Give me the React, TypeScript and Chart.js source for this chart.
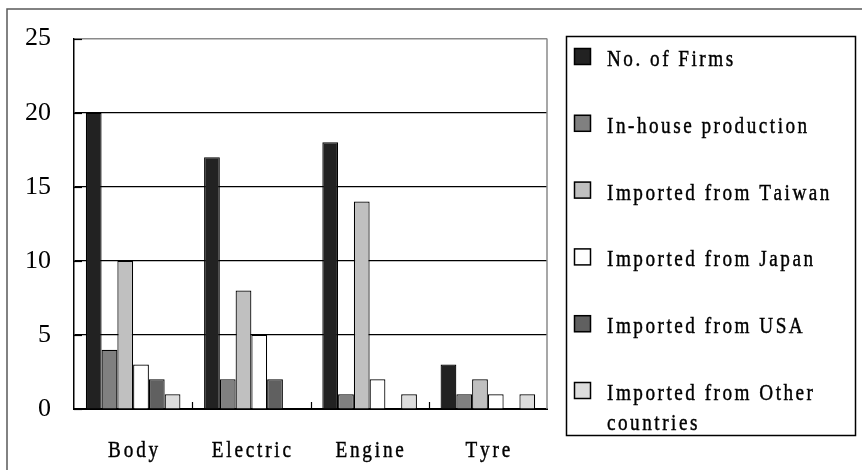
import React, { useEffect, useRef } from "react";
import { Chart, registerables } from "chart.js";

Chart.register(...registerables);

const categories = ["Body", "Electric", "Engine", "Tyre"];
const seriesNames = [
  "No. of Firms",
  "In-house production",
  "Imported from Taiwan",
  "Imported from Japan",
  "Imported from USA",
  "Imported from Other countries",
];
const firms = [20, 17, 18, 3];
const inHouse = [4, 2, 1, 1];
const taiwan = [10, 8, 14, 2];
const japan = [3, 5, 2, 1];
const usa = [2, 2, 0, 0];
const others = [1, 0, 1, 1];
const yTicks = [0, 5, 10, 15, 20, 25];
const seriesColors = ["#222222", "#808080", "#c0c0c0", "#ffffff", "#606060", "#dddddd"];

const FONT = '"Liberation Serif", "Times New Roman", serif';

function spacedWidth(ctx: CanvasRenderingContext2D, text: string, size: number, sx: number, sp: number) {
  ctx.save();
  ctx.font = `${size}px ${FONT}`;
  let w = 0;
  for (const ch of text) w += ctx.measureText(ch).width * sx;
  ctx.restore();
  return w + sp * Math.max(0, text.length - 1);
}

function drawSpaced(
  ctx: CanvasRenderingContext2D,
  text: string,
  x: number,
  y: number,
  size: number,
  sx: number,
  sp: number
) {
  ctx.save();
  ctx.font = `${size}px ${FONT}`;
  ctx.fillStyle = "#000";
  ctx.strokeStyle = "#000";
  ctx.lineWidth = 0.45;
  ctx.textAlign = "left";
  ctx.textBaseline = "alphabetic";
  ctx.translate(x, y);
  ctx.scale(sx, 1);
  let cx = 0;
  for (const ch of text) {
    ctx.fillText(ch, cx, 0);
    ctx.strokeText(ch, cx, 0);
    cx += ctx.measureText(ch).width + sp / sx;
  }
  ctx.restore();
}

const decor = {
  id: "decor",
  beforeDraw(chart: any) {
    const ctx = chart.ctx as CanvasRenderingContext2D;
    ctx.save();
    ctx.fillStyle = "#ffffff";
    ctx.fillRect(0, 0, chart.width, chart.height);
    ctx.strokeStyle = "#5a5a5a";
    ctx.lineWidth = 1.5;
    ctx.strokeRect(7, 9, chart.width + 20, chart.height + 20);
    ctx.restore();
  },
  afterDraw(chart: any) {
    const ctx = chart.ctx as CanvasRenderingContext2D;
    const area = chart.chartArea;
    const xs = chart.scales.x;
    const ys = chart.scales.y;
    ctx.save();
    // right border of plot (gray)
    ctx.strokeStyle = "#8a8a8a";
    ctx.lineWidth = 1.5;
    ctx.beginPath();
    ctx.moveTo(area.right, area.top);
    ctx.lineTo(area.right, area.bottom);
    ctx.stroke();
    // inside y ticks
    ctx.strokeStyle = "#000";
    ctx.lineWidth = 1.2;
    for (const v of yTicks) {
      const py = Math.round(ys.getPixelForValue(v)) + 0.5;
      ctx.beginPath();
      ctx.moveTo(area.left, py);
      ctx.lineTo(area.left + 8, py);
      ctx.stroke();
    }
    // category boundary ticks on x axis
    const n = categories.length;
    const cw = (area.right - area.left) / n;
    for (let i = 1; i < n; i++) {
      const px = Math.round(xs.getPixelForValue(i) - cw / 2) + 0.5;
      ctx.beginPath();
      ctx.moveTo(px, area.bottom);
      ctx.lineTo(px, area.bottom - 7);
      ctx.stroke();
    }
    ctx.restore();

    // x labels
    categories.forEach((c, i) => {
      const cx = xs.getPixelForValue(i);
      const w = spacedWidth(ctx, c, 24, 0.8, 2.8);
      drawSpaced(ctx, c, cx - w / 2, 457, 24, 0.8, 2.8);
    });

    // legend
    const bx = 566.5, by = 36.5, bw = 289, bh = 399;
    ctx.save();
    ctx.strokeStyle = "#000";
    ctx.lineWidth = 1.5;
    ctx.strokeRect(bx, by, bw, bh);
    ctx.restore();
    const maxW = bx + bw - 607 - 6;
    chart.data.datasets.forEach((ds: any, i: number) => {
      const top = 48 + i * 66.8;
      ctx.save();
      ctx.fillStyle = ds.backgroundColor;
      ctx.fillRect(574, top, 17, 17);
      ctx.strokeStyle = "#000";
      ctx.lineWidth = 1.5;
      ctx.strokeRect(574.5, top + 0.5, 16, 16);
      ctx.restore();
      const words = String(ds.label).split(" ");
      const lines: string[] = [];
      let cur = "";
      for (const w of words) {
        const t = cur ? cur + " " + w : w;
        if (cur && spacedWidth(ctx, t, 24, 0.8, 2.5) > maxW) {
          lines.push(cur);
          cur = w;
        } else cur = t;
      }
      if (cur) lines.push(cur);
      lines.forEach((ln, k) => {
        drawSpaced(ctx, ln, 607, top + 18 + k * 30, 24, 0.8, 2.5);
      });
    });
  },
};

export default function App() {
  const ref = useRef<HTMLCanvasElement | null>(null);
  useEffect(() => {
    document.body.style.margin = "0";
    const seriesValues = [firms, inHouse, taiwan, japan, usa, others];
    const chart = new Chart(ref.current as HTMLCanvasElement, {
      type: "bar",
      data: {
        labels: categories,
        datasets: seriesValues.map((vals, i) => ({
          label: seriesNames[i],
          data: vals,
          backgroundColor: seriesColors[i],
          borderColor: "#000000",
          borderWidth: 1.2,
          barPercentage: 1,
          categoryPercentage: 0.8,
        })),
      },
      options: {
        animation: false,
        responsive: false,
        devicePixelRatio: 1,
        layout: { padding: { left: 0, top: 29, right: 315, bottom: 0 } },
        plugins: { legend: { display: false }, tooltip: { enabled: false } },
        scales: {
          x: {
            grid: { display: false },
            border: { display: true, color: "#000", width: 2 },
            ticks: { display: false },
            afterFit: (s: any) => {
              s.height = 61;
            },
          },
          y: {
            min: 0,
            max: 25,
            afterBuildTicks: (s: any) => {
              s.ticks = yTicks.map((v) => ({ value: v }));
            },
            grid: {
              drawTicks: false,
              color: (c: any) => (c.tick && c.tick.value === 25 ? "#8a8a8a" : "#000000"),
              lineWidth: (c: any) => (c.tick && c.tick.value === 25 ? 1.5 : 1.2),
            },
            border: { display: true, color: "#000", width: 1.5 },
            ticks: {
              padding: 23,
              color: "#000",
              font: { family: FONT, size: 26 },
            },
            afterFit: (s: any) => {
              s.width = 74;
            },
          },
        },
      },
      plugins: [decor],
    });
    return () => chart.destroy();
  }, []);
  return (
    <div style={{ width: 862, height: 470 }}>
      <canvas ref={ref} width={862} height={470} style={{ display: "block" }} />
    </div>
  );
}
